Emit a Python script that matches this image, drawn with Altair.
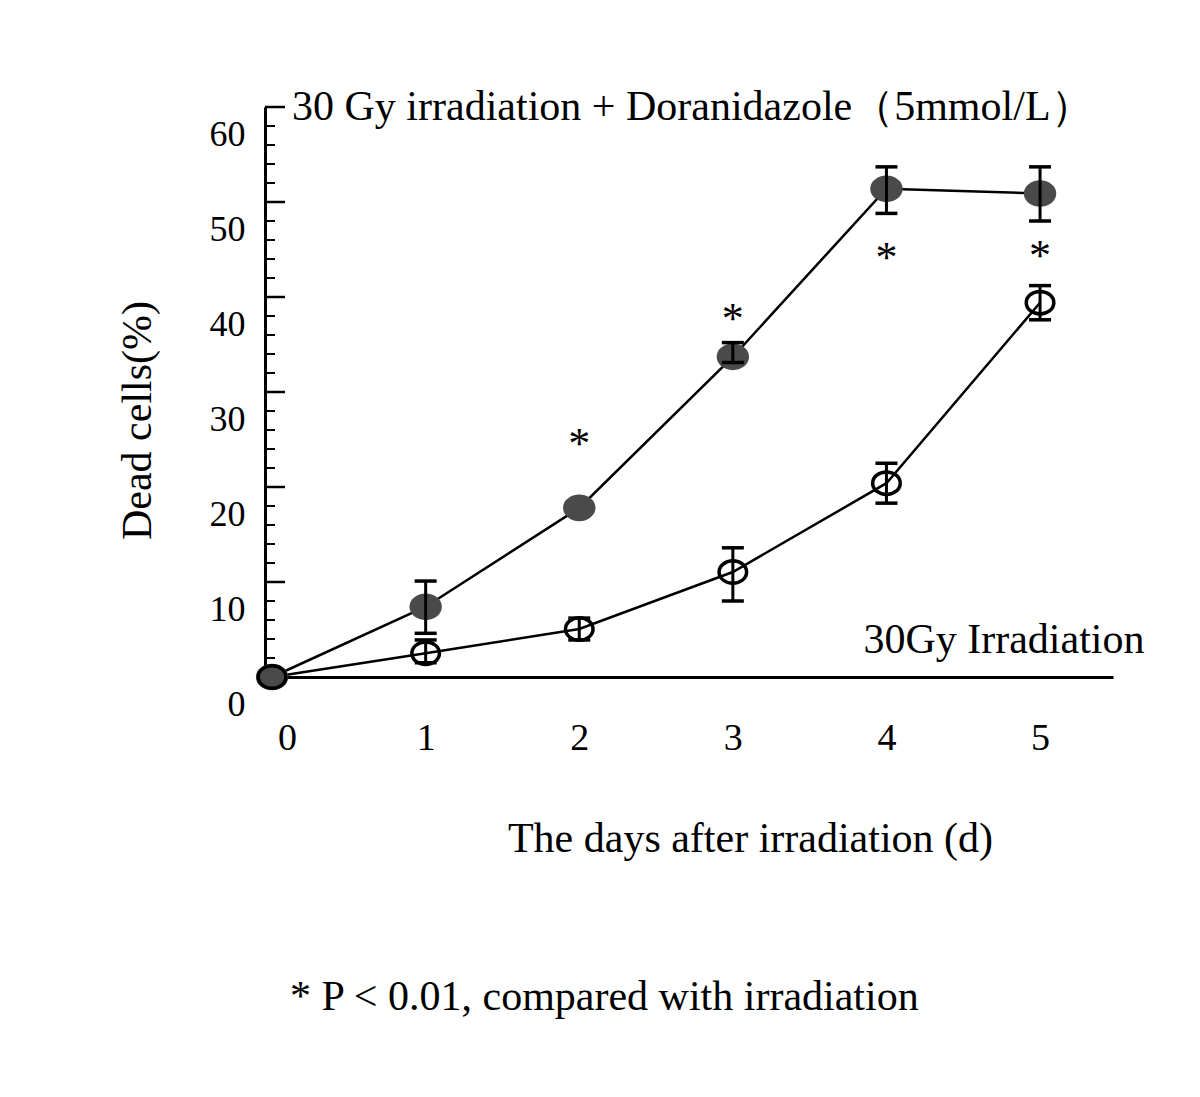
import altair as alt
import pandas as pd

# ---- data ----
days = [0, 1, 2, 3, 4, 5]
dor_mean = [0.0, 7.4, 17.8, 33.7, 51.4, 50.9]
dor_low = [None, 4.6, None, 33.1, 48.8, 48.0]
dor_high = [None, 10.1, None, 35.2, 53.7, 53.7]
irr_mean = [0.0, 2.5, 5.05, 11.05, 20.4, 39.4]
irr_low = [None, 1.5, 3.9, 8.0, 18.3, 37.6]
irr_high = [None, 3.9, 6.2, 13.6, 22.5, 41.2]
star_days = [2, 3, 4, 5]
star_y = [25.2, 38.3, 44.7, 45.0]
x_ticks = [0, 1, 2, 3, 4, 5]
y_major = [10, 20, 30, 40, 50, 60]
y_minor = [2, 4, 6, 8, 12, 14, 16, 18, 22, 24, 26, 28, 32, 34, 36, 38,
           42, 44, 46, 48, 52, 54, 56, 58]
y_labels = [0, 10, 20, 30, 40, 50, 60]
label_text = ["30 Gy irradiation +  Doranidazole\uff085mmol/L\uff09", "30Gy Irradiation"]
label_x = [0.13, 3.85]
label_y = [60.0, 3.9]

FONT = "Liberation Serif"
TXT = 42

dor = pd.DataFrame({"day": days, "mean": dor_mean, "low": dor_low, "high": dor_high,
                    "series": "Doranidazole"})
irr = pd.DataFrame({"day": days, "mean": irr_mean, "low": irr_low, "high": irr_high,
                    "series": "Irradiation"})
err = pd.concat([dor, irr]).dropna(subset=["low"])
stars = pd.DataFrame({"day": star_days, "y": star_y, "t": "*"})
labels = pd.DataFrame({"x": label_x, "y": label_y, "t": label_text})
major = pd.DataFrame({"v": y_major})
minor = pd.DataFrame({"v": y_minor})

xscale = alt.Scale(domain=[-0.046, 5.475], nice=False, zero=False)
yscale = alt.Scale(domain=[0, 60], nice=False)

xaxis = alt.Axis(values=x_ticks, format="d", ticks=False, grid=False, domainWidth=3,
                 domainColor="black",
                 labelFont=FONT, labelFontSize=38, labelColor="black", labelPadding=42,
                 labelOffset={"condition": {"test": "datum.value === 0", "value": 15}, "value": 0},
                 title="The days after irradiation (d)", titleFont=FONT, titleFontSize=TXT,
                 titleFontWeight="normal", titleColor="black", titleX=485, titleY=161,
                 titleAlign="center", titleBaseline="middle")
yaxis = alt.Axis(values=y_labels, format="d", ticks=False, grid=False, domainWidth=3,
                 domainColor="black",
                 labelFont=FONT, labelFontSize=36, labelColor="black", labelPadding=20,
                 labelOffset=27,
                 title="Dead cells(%)", titleFont=FONT, titleFontSize=TXT,
                 titleFontWeight="normal", titleColor="black", titleX=-128, titleY=313,
                 titleAlign="center", titleBaseline="middle", titleAngle=-90)

ELLIPSE = "M -1 0 A 1 0.82 0 1 0 1 0 A 1 0.82 0 1 0 -1 0 Z"

base_x = alt.X("day:Q", scale=xscale, axis=xaxis)
base_y = alt.Y("mean:Q", scale=yscale, axis=yaxis)

line_d = alt.Chart(dor).mark_line(color="black", strokeWidth=2.5).encode(
    x=base_x, y=base_y)
line_i = alt.Chart(irr).mark_line(color="black", strokeWidth=2.5).encode(
    x="day:Q", y="mean:Q")

pts_d = alt.Chart(dor).mark_point(shape=ELLIPSE, filled=True, fill="#4a4a4a", opacity=1,
                                  size=1050, strokeWidth=0).encode(x="day:Q", y="mean:Q")
pts_i = alt.Chart(irr).mark_point(shape=ELLIPSE, filled=False, stroke="black", fillOpacity=0,
                                  opacity=1, size=760, strokeWidth=3.5).encode(x="day:Q", y="mean:Q")

bars = alt.Chart(err).mark_rule(color="black", strokeWidth=3).encode(
    x="day:Q", y="low:Q", y2="high:Q")
cap_lo = alt.Chart(err).mark_tick(color="black", thickness=3.5, size=22, orient="horizontal",
                                  opacity=1).encode(x="day:Q", y="low:Q")
cap_hi = alt.Chart(err).mark_tick(color="black", thickness=3.5, size=22, orient="horizontal",
                                  opacity=1).encode(x="day:Q", y="high:Q")

star_txt = alt.Chart(stars).mark_text(font=FONT, fontSize=44, color="black", baseline="alphabetic",
                                      dy=20).encode(x="day:Q", y="y:Q", text="t:N")

lab_txt = alt.Chart(labels).mark_text(font=FONT, fontSize=TXT, color="black", align="left",
                                      baseline="middle").encode(x="x:Q", y="y:Q", text="t:N")

tick_major = alt.Chart(major).mark_rule(color="black", strokeWidth=2.5).encode(
    y="v:Q", x=alt.value(0), x2=alt.value(20))
tick_minor = alt.Chart(minor).mark_rule(color="black", strokeWidth=2).encode(
    y="v:Q", x=alt.value(0), x2=alt.value(10))

chart = alt.layer(
    line_d, line_i, pts_d, pts_i, bars, cap_lo, cap_hi, star_txt, lab_txt, tick_major, tick_minor
).properties(
    width=848, height=570,
    autosize="none",
    padding={"left": 257, "top": 99, "right": 79, "bottom": 400},
    title=alt.TitleParams("* P < 0.01, compared with irradiation", orient="bottom", anchor="start",
                          frame="group", dx=25, offset=118, font=FONT, fontSize=TXT,
                          fontWeight="normal", color="black"),
).configure(background="white").configure_view(strokeWidth=0, stroke="transparent")

chart.save("out.html", embed_options={"renderer": "svg", "actions": False})
